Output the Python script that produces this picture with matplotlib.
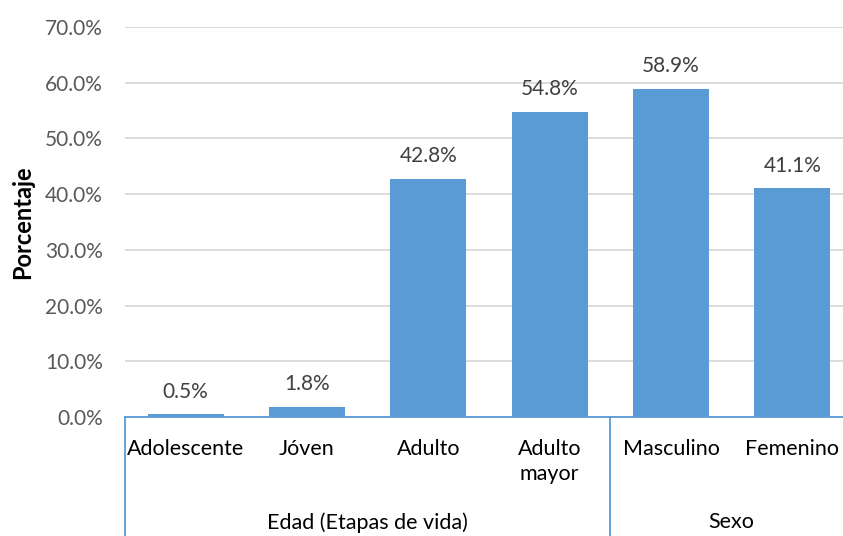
import matplotlib.pyplot as plt
import matplotlib.transforms as mtransforms

# Datos
categorias = ["Adolescente", "Jóven", "Adulto", "Adulto\nmayor", "Masculino", "Femenino"]
valores = [0.005, 0.018, 0.428, 0.548, 0.589, 0.411]
etiquetas = ["0.5%", "1.8%", "42.8%", "54.8%", "58.9%", "41.1%"]
grupos = ["Edad (Etapas de vida)", "Sexo"]
grupo_limites = [(-0.5, 3.5), (3.5, 5.5)]
yticks = [0.0, 0.1, 0.2, 0.3, 0.4, 0.5, 0.6, 0.7]

plt.rcParams['font.family'] = ['Lato', 'DejaVu Sans']

W, H = 843, 536
fig = plt.figure(figsize=(W / 100, H / 100), dpi=100)
ax = fig.add_axes([125 / W, 119 / H, (853 - 125) / W, (509 - 119) / H])

x = list(range(len(categorias)))
ax.bar(x, valores, width=0.625, color="#5B9BD5", zorder=3)

for xi, v, t in zip(x, valores, etiquetas):
    ax.annotate(t, (xi, v), xytext=(0, 9), textcoords="offset points",
                ha="center", va="bottom", fontsize=15, color="#404040")

ax.set_xlim(-0.5, 5.5)
ax.set_ylim(0, 0.7)
ax.set_yticks(yticks)
ax.set_yticklabels([f"{t * 100:.1f}%" for t in yticks])
ax.tick_params(axis="y", length=0, pad=16, labelsize=15, labelcolor="#595959")
ax.set_xticks([])
ax.grid(axis="y", color="#D9D9D9", linewidth=1.3, zorder=0)
for s in ["top", "right", "left"]:
    ax.spines[s].set_visible(False)
ax.spines["bottom"].set_color("#5B9BD5")
ax.spines["bottom"].set_linewidth(1.3)
ax.spines["bottom"].set_zorder(4)

ax.set_ylabel("Porcentaje", fontsize=17, fontweight="bold", labelpad=8)

# Eje de categorías de varios niveles
trans = mtransforms.blended_transform_factory(ax.transData, ax.transAxes)
fondo = -119 / (509 - 119)
for xi, c in zip(x, categorias):
    ax.text(xi, -22 / 390, c, transform=trans, ha="center", va="top",
            fontsize=15.5, color="black", linespacing=1.3)
for g, (a, b) in zip(grupos, grupo_limites):
    ax.text((a + b) / 2, -95 / 390, g, transform=trans, ha="center", va="top",
            fontsize=15.5, color="black")
for xl in [-0.5, 3.5]:
    ax.plot([xl, xl], [0, fondo], transform=trans, color="#5B9BD5",
            linewidth=1.3, clip_on=False)

fig.savefig("out.png", dpi=100)
